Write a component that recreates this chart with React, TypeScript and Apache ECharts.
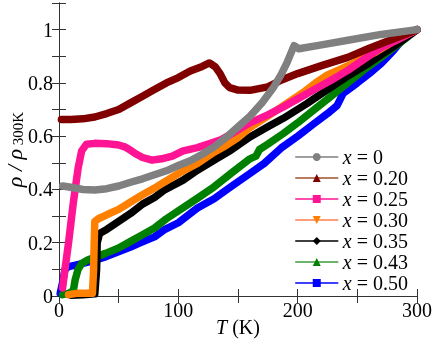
import React, { useEffect, useRef } from "react";
import * as echarts from "echarts";

// ---- data: [T (K), rho/rho300K] ----
const seriesNames = ["x = 0", "x = 0.20", "x = 0.25", "x = 0.30", "x = 0.35", "x = 0.43", "x = 0.50"];
const seriesColors = ["#808080", "#800000", "#ff1493", "#ff8000", "#000000", "#008000", "#0000ff"];
const legendLineColors = ["#808080", "#a0522d", "#ff1493", "#ff7f50", "#000000", "#3c9a3c", "#0000ff"];

const x000 = [[3,0.413],[10,0.408],[20,0.4],[30,0.398],[40,0.403],[50,0.413],[60,0.427],[70,0.44],[80,0.455],[90,0.47],[100,0.49],[110,0.508],[120,0.532],[130,0.56],[140,0.595],[150,0.635],[160,0.675],[170,0.725],[180,0.785],[186,0.83],[191,0.875],[197,0.94],[201,0.928],[220,0.943],[242,0.96],[270,0.982],[300,1.0]];
const x020 = [[2,0.663],[10,0.663],[20,0.665],[30,0.672],[40,0.685],[50,0.7],[60,0.725],[70,0.75],[80,0.775],[90,0.8],[100,0.82],[110,0.845],[120,0.862],[126,0.875],[131,0.86],[135,0.835],[139,0.8],[143,0.782],[150,0.773],[160,0.772],[175,0.785],[186,0.81],[200,0.835],[220,0.865],[242,0.896],[260,0.93],[280,0.965],[300,1.0]];
const x025 = [[3,0.03],[5,0.1],[8,0.2],[12,0.35],[16,0.48],[19,0.545],[23,0.57],[30,0.573],[40,0.572],[50,0.567],[55,0.56],[60,0.547],[65,0.532],[70,0.52],[78,0.51],[86,0.515],[95,0.525],[104,0.545],[116,0.557],[125,0.57],[135,0.585],[145,0.61],[160,0.65],[175,0.68],[188,0.71],[200,0.74],[214,0.775],[228,0.81],[242,0.847],[256,0.89],[270,0.932],[285,0.965],[300,1.0]];
const x030 = [[8,0.005],[15,0.01],[22,0.01],[28,0.01],[29,0.1],[29.5,0.2],[30,0.28],[33,0.29],[40,0.305],[50,0.325],[60,0.353],[70,0.38],[80,0.405],[88,0.427],[104,0.47],[116,0.498],[130,0.54],[140,0.565],[150,0.595],[160,0.632],[175,0.675],[190,0.72],[205,0.765],[215,0.8],[225,0.83],[235,0.85],[245,0.87],[255,0.895],[265,0.915],[280,0.955],[300,1.0]];
const x035 = [[10,0.003],[20,0.005],[30,0.008],[31.5,0.1],[32,0.2],[34,0.235],[40,0.25],[50,0.28],[60,0.31],[70,0.345],[80,0.37],[88,0.397],[104,0.435],[116,0.472],[133,0.518],[144,0.547],[160,0.597],[175,0.635],[188,0.667],[208,0.723],[220,0.76],[240,0.82],[260,0.875],[280,0.935],[300,1.0]];
const x043 = [[3,0.005],[8,0.01],[12,0.02],[13.5,0.06],[16,0.1],[19,0.122],[24,0.135],[30,0.145],[39,0.16],[50,0.18],[60,0.205],[70,0.23],[80,0.255],[90,0.29],[100,0.32],[116,0.367],[130,0.41],[144,0.46],[160,0.515],[165,0.525],[168,0.55],[175,0.57],[188,0.61],[200,0.65],[214,0.7],[228,0.75],[242,0.8],[256,0.85],[270,0.896],[285,0.948],[300,1.0]];
const x050 = [[1,0.01],[3,0.05],[5,0.1],[8,0.11],[14,0.116],[25,0.128],[39,0.147],[53,0.172],[60,0.184],[67,0.198],[80,0.222],[88,0.248],[100,0.275],[116,0.33],[130,0.365],[144,0.41],[160,0.46],[172,0.498],[186,0.555],[200,0.6],[214,0.648],[225,0.685],[233,0.715],[238,0.76],[250,0.8],[260,0.835],[270,0.873],[280,0.92],[292,0.985],[300,1.0]];

const seriesData = [x000, x020, x025, x030, x035, x043, x050];
const seriesSymbols = ["circle", "triangle", "rect", "path://M0,0 L10,0 L5,9 Z", "diamond", "triangle", "rect"];
const legendValues = ["0", "0.20", "0.25", "0.30", "0.35", "0.43", "0.50"];

const xTicks = [0, 100, 200, 300];
const yTicks = [0, 0.2, 0.4, 0.6, 0.8, 1];

const FONT = "'Times New Roman', 'Liberation Serif', serif";

export default function App() {
  const ref = useRef<HTMLDivElement>(null);
  useEffect(() => {
    if (!ref.current) return;
    const chart = echarts.init(ref.current, null, { renderer: "svg" });
    const axisLine = { lineStyle: { color: "#333", width: 1 } };
    const tick = { inside: true, length: 7, lineStyle: { color: "#333", width: 1 } };
    const series = seriesNames.map((name, i) => ({
      name,
      type: "line",
      data: seriesData[i],
      symbol: seriesSymbols[i],
      showSymbol: false,
      symbolSize: 8,
      xAxisIndex: 0,
      yAxisIndex: 0,
      z: 10 - i,
      lineStyle: { color: seriesColors[i], width: 7.5, join: "round", cap: "round" },
      itemStyle: { color: seriesColors[i] },
    }));
    chart.setOption({
      animation: false,
      textStyle: { fontFamily: FONT },
      grid: { left: 59, right: 19, top: 3, bottom: 43, outerBoundsMode: "none" },
      legend: {
        data: seriesNames.map((name, i) => ({ name, lineStyle: { color: legendLineColors[i], width: 1.5 } })),
        orient: "vertical",
        left: 295,
        top: 147,
        padding: 0,
        itemWidth: 42,
        itemHeight: 10,
        itemGap: 1,
        lineStyle: { width: 1.5 },
        formatter: (name: string) => `{i|x} = ${legendValues[seriesNames.indexOf(name)]}`,
        textStyle: {
          fontFamily: FONT,
          fontSize: 20,
          color: "#000",
          lineHeight: 19.8,
          rich: {
            i: { fontFamily: FONT, fontStyle: "italic", fontSize: 20, color: "#000", lineHeight: 19.8 },
          },
        },
      },
      xAxis: [
        {
          type: "value",
          min: 0,
          max: 300,
          interval: 50,
          position: "bottom",
          axisLine,
          axisTick: tick,
          splitLine: { show: false },
          axisLabel: {
            fontFamily: FONT,
            fontSize: 20,
            color: "#000",
            margin: 4,
            formatter: (v: number) => (xTicks.includes(v) ? String(v) : ""),
          },
          name: "{i|T} (K)",
          nameLocation: "middle",
          nameMoveOverlap: false,
          nameGap: 21,
          nameTextStyle: {
            fontFamily: FONT,
            fontSize: 20,
            color: "#000",
            rich: { i: { fontFamily: FONT, fontStyle: "italic", fontSize: 20, color: "#000" } },
          },
        },
        {
          type: "value",
          min: 0,
          max: 300,
          interval: 50,
          position: "top",
          axisLine,
          axisTick: tick,
          splitLine: { show: false },
          axisLabel: { show: false },
        },
      ],
      yAxis: [
        {
          type: "value",
          min: 0,
          max: 1.1,
          interval: 0.1,
          position: "left",
          axisLine,
          axisTick: tick,
          splitLine: { show: false },
          axisLabel: {
            fontFamily: FONT,
            fontSize: 20,
            color: "#000",
            margin: 6,
            formatter: (v: number) => {
              const hit = yTicks.find((t) => Math.abs(t - v) < 1e-6);
              return hit === undefined ? "" : String(hit);
            },
          },
          name: "{r|ρ / ρ}{s| 300K}",
          nameLocation: "middle",
          nameMoveOverlap: false,
          nameGap: 34,
          nameRotate: 90,
          nameTextStyle: {
            fontFamily: FONT,
            color: "#000",
            rich: {
              r: { fontFamily: FONT, fontStyle: "italic", fontSize: 22, color: "#000", lineHeight: 22 },
              s: { fontFamily: FONT, fontSize: 15, color: "#000", lineHeight: 10, verticalAlign: "bottom" },
            },
          },
        },
        {
          type: "value",
          min: 0,
          max: 1.1,
          interval: 0.1,
          position: "right",
          axisLine,
          axisTick: tick,
          splitLine: { show: false },
          axisLabel: { show: false },
        },
      ],
      series,
    });
    return () => chart.dispose();
  }, []);
  return <div ref={ref} style={{ position: "fixed", left: 0, top: 0, width: 436, height: 339 }} />;
}
